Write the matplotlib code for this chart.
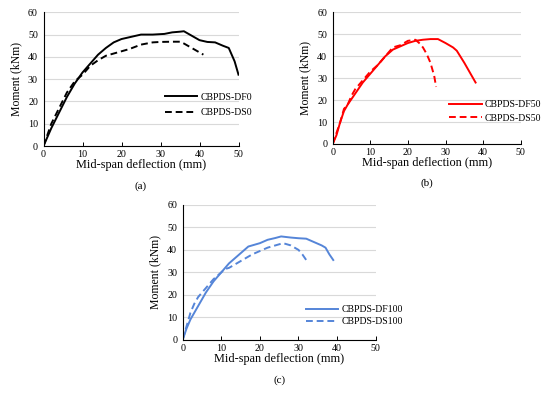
import matplotlib
matplotlib.use("Agg")
import matplotlib.pyplot as plt

plt.rcParams.update({
    "font.family": ["Liberation Serif", "DejaVu Serif"],
    "font.size": 7,
})

# (a) 0 % fibre
df0_x = [0, 2, 4, 6, 8, 10, 12, 14, 16, 18, 20, 22, 25, 28, 31, 33, 35, 36, 38, 40, 42, 44, 46, 47.5, 49, 50]
df0_y = [0, 8, 15, 22, 28, 33, 37, 41, 44, 46.5, 48, 48.8, 50, 50, 50.3, 51, 51.3, 51.5, 49.5, 47.5, 46.7, 46.5, 45, 44, 38, 32]
ds0_x = [0, 1, 2, 4, 6, 8, 10, 12, 14, 16, 18, 20, 22, 25, 28, 30, 33, 35, 36, 38, 40, 41]
ds0_y = [0, 5, 10, 17, 24, 29, 32, 36, 38.5, 40.5, 41.5, 42.5, 43.5, 45.5, 46.5, 46.7, 46.8, 46.8, 46, 44, 42, 41]

# (b) 50 % fibre
df50_x = [0, 1, 2, 3, 4, 6, 8, 10, 12, 14, 16, 18, 20, 22, 24, 26, 28, 30, 32, 33, 35, 37, 38]
df50_y = [0, 4, 10, 15, 18, 23, 28, 32, 36, 40, 43, 44.5, 46, 47, 47.5, 47.8, 47.8, 46, 44, 42.5, 37, 31, 28]
ds50_x = [0, 1, 2, 3, 4, 5, 6, 8, 10, 12, 14, 16, 18, 20, 22, 23, 24, 25, 26, 27, 27.5]
ds50_y = [0, 5, 10, 16, 18, 22, 25, 29, 33, 36, 40, 44, 45, 47, 47.5, 46, 44, 41, 37, 31, 26]

# (c) 100 % fibre
df100_x = [0, 1, 2, 4, 6, 8, 10, 12, 14, 16, 17, 19, 20, 22, 24, 25.5, 28, 30, 32, 34, 36, 37, 38, 39]
df100_y = [0, 5, 9, 15, 21, 26, 30, 34, 37, 40, 41.5, 42.5, 43, 44.5, 45.3, 46, 45.5, 45.2, 45, 43.5, 42, 41, 38, 35.5]
ds100_x = [0, 1, 2, 3, 4, 6, 8, 10, 11, 12, 14, 16, 18, 20, 22, 24, 26, 28, 30, 31, 32]
ds100_y = [0, 6, 12, 16, 19, 23, 27, 30, 31.5, 32, 34, 36, 38, 39.5, 41, 42, 43, 42, 40, 38, 35.5]

xticks = [0, 10, 20, 30, 40, 50]
yticks = [0, 10, 20, 30, 40, 50, 60]

W, H = 550, 393
fig = plt.figure(figsize=(5.5, 3.93), dpi=100)


def panel(rect, series, color, tag, leg_xy, lspace):
    left, top, right, bottom = rect
    ax = fig.add_axes([left / W, 1 - bottom / H, (right - left) / W, (bottom - top) / H])
    (x1, y1, n1), (x2, y2, n2) = series
    ax.plot(x1, y1, color=color, lw=1.4, label=n1)
    ax.plot(x2, y2, color=color, lw=1.4, ls=(0, (3.5, 2)), label=n2)
    ax.set_xlim(0, 50)
    ax.set_ylim(0, 60)
    ax.set_xticks(xticks)
    ax.set_yticks(yticks)
    ax.grid(axis="y", color="#d9d9d9", lw=0.8)
    ax.set_axisbelow(True)
    for s in ("top", "right"):
        ax.spines[s].set_visible(False)
    for s in ("left", "bottom"):
        ax.spines[s].set_color("black")
        ax.spines[s].set_linewidth(0.8)
    ax.tick_params(axis="y", length=0, pad=4, labelsize=7.2)
    ax.tick_params(axis="x", direction="in", length=3, width=0.7, pad=3, labelsize=7.2)
    ax.set_xlabel("Mid-span deflection (mm)", fontsize=8.8, labelpad=0)
    ax.set_ylabel("Moment (kNm)", fontsize=8.5, labelpad=4)
    ax.legend(loc="center left", bbox_to_anchor=leg_xy, frameon=False, fontsize=7,
              handlelength=3.3, handletextpad=0.3, borderpad=0, labelspacing=lspace)
    ax.text(0.5, -0.30, tag, transform=ax.transAxes, ha="center", va="center", fontsize=8)
    return ax


panel((43.5, 12.3, 238.5, 146), [(df0_x, df0_y, "CBPDS-DF0"), (ds0_x, ds0_y, "CBPDS-DS0")],
      "black", "(a)", (0.600, 0.307), 0.7)
panel((332.7, 12.3, 520.7, 144), [(df50_x, df50_y, "CBPDS-DF50"), (ds50_x, ds50_y, "CBPDS-DS50")],
      "#ff0000", "(b)", (0.595, 0.248), 0.45)
panel((182.7, 205, 375.7, 339.7), [(df100_x, df100_y, "CBPDS-DF100"), (ds100_x, ds100_y, "CBPDS-DS100")],
      "#5585d8", "(c)", (0.615, 0.18), 0.3)

fig.savefig("out.png", dpi=100)
